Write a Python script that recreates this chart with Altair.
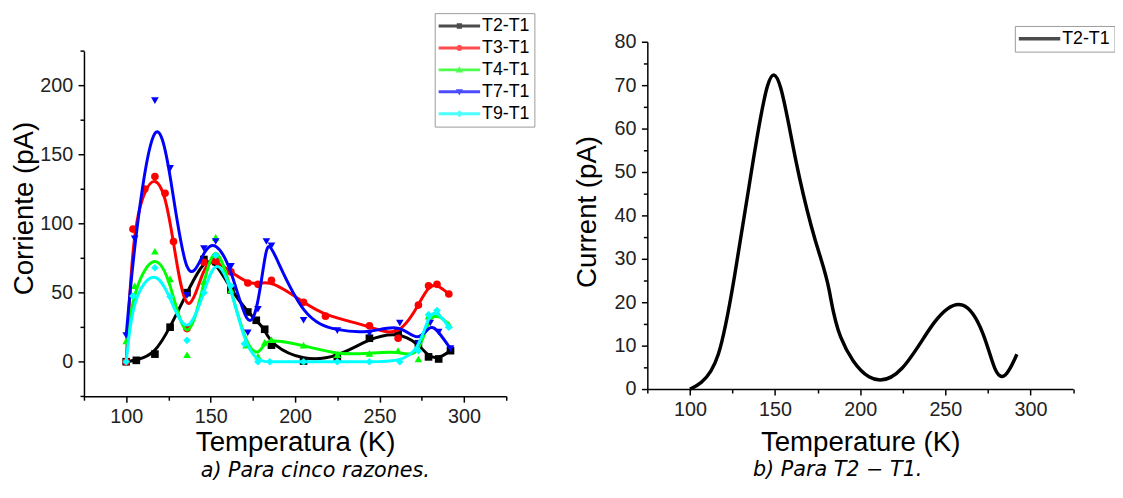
import altair as alt
import pandas as pd

SERIES = ["T2-T1", "T3-T1", "T4-T1", "T7-T1", "T9-T1"]
COLORS = ["#000000", "#ff0000", "#00ff00", "#0000ff", "#00ffff"]
MARKERS = ["square", "circle", "triangle-up", "triangle-down", "diamond"]

# temperature (K) and current (pA)
T2_T = [100, 106, 117, 126, 136, 146, 153, 162, 172, 177, 182, 186, 205, 225, 244, 261, 273, 279, 285, 292]
T2_I = [0, 1, 5.5, 25, 50, 74, 72.5, 52, 36, 30, 23.5, 12, 0.5, 3, 17, 21.5, 13, 3.5, 2, 8]

T3_T = [100, 104, 111, 117, 123, 128, 136, 146, 153, 162, 172, 178, 186, 205, 218, 244, 261, 273, 279, 284, 291]
T3_I = [0, 96, 125, 134, 122, 87, 24, 72, 73, 65, 57, 56, 59, 43, 33, 26, 17, 41, 55, 56, 49]

T4_T = [100, 105, 117, 126, 136, 146, 153, 162, 171, 178, 182, 186, 205, 225, 244, 261, 273, 279, 285, 291]
T4_I = [15, 55, 80, 60, 5, 58, 90, 52, 12, 4, 14, 16, 12, 5, 6, 8, 2, 33, 34, 27]

T7_T = [100, 105, 117, 126, 136, 146, 153, 162, 172, 178, 183, 186, 205, 225, 244, 262, 273, 280, 285, 292]
T7_I = [19, 89, 189, 140, 48, 82, 87, 69, 21, 38, 87, 84, 30, 22.5, 20.5, 28, 13, 28, 21.5, 9.5]

T9_T = [100, 104, 117, 126, 136, 146, 153, 162, 170, 178, 185, 205, 225, 244, 262, 273, 279, 284, 291]
T9_I = [0, 47.5, 68, 47, 15.5, 50, 77, 55, 13, 0, 0, 0, 0, 0, 0, 8, 34, 37, 25]

X_TICKS = [75, 100, 125, 150, 175, 200, 225, 250, 275, 300, 325]
Y_TICKS_A = [-25, 0, 25, 50, 75, 100, 125, 150, 175, 200, 225]
Y_TICKS_B = [0, 5, 10, 15, 20, 25, 30, 35, 40, 45, 50, 55, 60, 65, 70, 75, 80]

CAPTION_A = "a) Para cinco razones."
CAPTION_B = "b) Para T2 \u2212 T1."

FONT = "Liberation Sans"
CAP_FONT = "DejaVu Sans"

rows = []
for name, ts, vs in zip(SERIES, [T2_T, T3_T, T4_T, T7_T, T9_T], [T2_I, T3_I, T4_I, T7_I, T9_I]):
    for t, v in zip(ts, vs):
        rows.append({"series": name, "T": t, "I": v})
df = pd.DataFrame(rows)


# ---- legend symbols: line with a small marker (1 unit = 9 px, shifted right) ----
def poly(pts):
    return "M" + "L".join("%.3f,%.3f" % p for p in pts) + "Z"


CX = 1.333
LINE_A = poly([(-1, -0.167), (3.667, -0.167), (3.667, 0.167), (-1, 0.167)])
LINE_B = poly([(-1, -0.194), (3.667, -0.194), (3.667, 0.194), (-1, 0.194)])
MARK_PATHS = [
    poly([(CX - 0.3, -0.3), (CX + 0.3, -0.3), (CX + 0.3, 0.3), (CX - 0.3, 0.3)]),
    poly([(CX + 0.36, 0), (CX + 0.255, 0.255), (CX, 0.36), (CX - 0.255, 0.255),
          (CX - 0.36, 0), (CX - 0.255, -0.255), (CX, -0.36), (CX + 0.255, -0.255)]),
    poly([(CX, -0.4), (CX + 0.4, 0.29), (CX - 0.4, 0.29)]),
    poly([(CX - 0.4, -0.29), (CX + 0.4, -0.29), (CX, 0.4)]),
    poly([(CX, -0.4), (CX + 0.4, 0), (CX, 0.4), (CX - 0.4, 0)]),
]
LEGEND_PATHS = [LINE_A + p for p in MARK_PATHS]

X_SCALE = alt.Scale(domain=[75, 325], nice=False, zero=False)


def x_axis(title, pad):
    return alt.Axis(
        values=X_TICKS,
        labelExpr="datum.value % 50 === 0 ? datum.label : ''",
        tickSize={"condition": {"test": "datum.value % 50 === 0", "value": 6}, "value": 4},
        title=title, titlePadding=pad, orient="bottom",
    )


def y_axis(title, values, step, ty, pad, dash=None):
    kw = {}
    if dash:
        kw["domainDash"] = dash
    return alt.Axis(
        values=values,
        labelExpr="datum.value %% %d === 0 ? datum.label : ''" % step,
        tickSize={"condition": {"test": "datum.value %% %d === 0" % step, "value": 6}, "value": 4},
        title=title, titleY=ty, titlePadding=pad, labelPadding=5.5, **kw,
    )


def legend(lx, ly):
    return alt.Legend(
        orient="none", legendX=lx, legendY=ly, title=None,
        symbolSize=324, symbolStrokeWidth=0, symbolOffset=0,
        labelFont=FONT, labelFontSize=18, labelColor="black", labelOffset=26,
        padding=4, rowPadding=4.25, strokeColor="#9a9a9a", fillColor="white",
    )


def caption(text, anchor, dx):
    return alt.TitleParams(text, orient="bottom", anchor=anchor, frame="group",
                           font=CAP_FONT, fontStyle="italic", fontWeight="normal",
                           fontSize=21, color="black", offset=3.5, dx=dx)


# ---- panel a ----
base_a = alt.Chart(df).encode(
    x=alt.X("T:Q", scale=X_SCALE, axis=x_axis("Temperatura (K)", 2)),
    y=alt.Y("I:Q", scale=alt.Scale(domain=[-25, 231.64], nice=False, zero=False),
            axis=y_axis("Corriente (pA)", Y_TICKS_A, 50, 168.5, 1, dash=[350, 40])),
)

layers = []
for name, col, mk in zip(SERIES, COLORS, MARKERS):
    sub = base_a.transform_filter(alt.datum.series == name)
    layers.append(sub.mark_line(color=col, strokeWidth=3, interpolate="basis"))
    layers.append(sub.mark_point(shape=mk, filled=True, size=60, color=col, opacity=1))

leg_a = legend(355.5, -29)
layers.append(
    base_a.transform_filter("false").mark_point(filled=True).encode(
        color=alt.Color("series:N", scale=alt.Scale(domain=SERIES, range=COLORS), legend=leg_a),
        shape=alt.Shape("series:N", scale=alt.Scale(domain=SERIES, range=LEGEND_PATHS), legend=leg_a),
    )
)
panel_a = alt.layer(*layers).properties(width=428, height=359.3,
                                        title=caption(CAPTION_A, "middle", 20.5))

# ---- panel b ----
base_b = alt.Chart(df).transform_filter(alt.datum.series == "T2-T1").encode(
    x=alt.X("T:Q", scale=X_SCALE, axis=x_axis("Temperature (K)", 9)),
    y=alt.Y("I:Q", scale=alt.Scale(domain=[0, 80], nice=False, zero=False),
            axis=y_axis("Current (pA)", Y_TICKS_B, 10, 172, 13)),
)
line_b = base_b.mark_line(color="#000000", strokeWidth=3.5, interpolate="basis")
leg_b = legend(372.5, -16)
legend_b = base_b.transform_filter("false").mark_point(filled=True).encode(
    color=alt.Color("series:N", scale=alt.Scale(domain=["T2-T1"], range=["#000000"]), legend=leg_b),
    shape=alt.Shape("series:N", scale=alt.Scale(domain=["T2-T1"], range=[LINE_B]), legend=leg_b),
)
panel_b = alt.layer(line_b, legend_b).properties(width=431.5, height=352,
                                                 title=caption(CAPTION_B, "start", 107))

chart = alt.hconcat(panel_a, panel_b, spacing=39).resolve_scale(
    color="independent", shape="independent"
).properties(
    padding={"left": 3, "top": 1, "right": 0, "bottom": -2}
).configure_view(stroke=None).configure_axis(
    grid=False, domainColor="black", domainWidth=1.5, tickColor="black", tickWidth=1.5,
    labelFont=FONT, labelFontSize=20, labelColor="#222222", labelPadding=5,
    labelFlush=False, labelOverlap=False,
    titleFont=FONT, titleFontSize=28, titleFontWeight="normal", titleColor="black",
)

chart.save("out.html", embed_options={"renderer": "svg", "actions": False})
